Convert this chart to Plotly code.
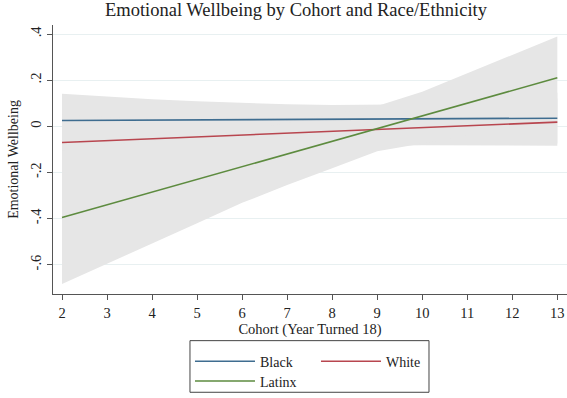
import plotly.graph_objects as go

cohort = [2, 3, 4, 5, 6, 7, 8, 9, 10, 11, 12, 13]

black = [0.025, 0.026, 0.027, 0.028, 0.029, 0.030, 0.031, 0.031, 0.032, 0.033, 0.034, 0.035]
black_lo = [-0.091, -0.076, -0.063, -0.052, -0.042, -0.035, -0.030, -0.030, -0.031, -0.039, -0.057, -0.075]
black_hi = [0.141, 0.128, 0.117, 0.108, 0.100, 0.095, 0.092, 0.092, 0.095, 0.105, 0.125, 0.145]

white = [-0.070, -0.062, -0.054, -0.046, -0.038, -0.030, -0.022, -0.014, -0.006, 0.002, 0.010, 0.018]
white_lo = [-0.190, -0.165, -0.140, -0.120, -0.105, -0.095, -0.088, -0.084, -0.082, -0.082, -0.083, -0.084]
white_hi = [0.050, 0.041, 0.032, 0.028, 0.029, 0.035, 0.044, 0.056, 0.070, 0.086, 0.103, 0.120]

latinx = [-0.395, -0.340, -0.285, -0.230, -0.175, -0.120, -0.065, -0.010, 0.045, 0.100, 0.155, 0.210]
latinx_lo = [-0.684, -0.595, -0.508, -0.420, -0.332, -0.255, -0.182, -0.108, -0.075, -0.040, -0.005, 0.030]
latinx_hi = [-0.106, -0.085, -0.062, -0.040, -0.018, 0.015, 0.052, 0.088, 0.150, 0.230, 0.310, 0.389]

series = [
    ("Black", black, black_lo, black_hi, "#3f6d90", "legend"),
    ("White", white, white_lo, white_hi, "#b8464f", "legend"),
    ("Latinx", latinx, latinx_lo, latinx_hi, "#5d8b3f", "legend2"),
]

yticks = [0.4, 0.2, 0, -0.2, -0.4, -0.6]
ytick_text = [".4", ".2", "0", "-.2", "-.4", "-.6"]
xticks = list(range(2, 14))

band_color = "#e6e6e6"
font_family = "Liberation Serif, Times New Roman, serif"

fig = go.Figure()

for name, y, lo, hi, col, lg in series:
    fig.add_trace(go.Scatter(x=cohort, y=hi, mode="lines", line=dict(width=0),
                             showlegend=False, hoverinfo="skip"))
    fig.add_trace(go.Scatter(x=cohort, y=lo, mode="lines", line=dict(width=0),
                             fill="tonexty", fillcolor=band_color,
                             showlegend=False, hoverinfo="skip"))

for name, y, lo, hi, col, lg in series:
    fig.add_trace(go.Scatter(x=cohort, y=y, mode="lines", name=name, legend=lg,
                             line=dict(color=col, width=1.6)))

legend_common = dict(orientation="h", xanchor="left", yanchor="top",
                     borderwidth=0, bgcolor="rgba(0,0,0,0)",
                     entrywidth=51, itemwidth=60, traceorder="normal",
                     font=dict(size=14, family=font_family, color="#222222"))

fig.update_layout(
    width=567, height=398,
    margin=dict(l=53, r=0, t=25, b=102),
    paper_bgcolor="white", plot_bgcolor="white",
    font=dict(family=font_family, color="#222222", size=13),
    title=dict(text="Emotional Wellbeing by Cohort and Race/Ethnicity",
               x=0.522, xanchor="center", y=0.993, yanchor="top",
               font=dict(size=18.5, family=font_family, color="#222222")),
    legend=dict(x=0.2665, y=-0.1919, **legend_common),
    legend2=dict(x=0.2665, y=-0.2657, **legend_common),
    showlegend=True,
    shapes=[dict(type="rect", xref="paper", yref="paper",
                 x0=0.2665, x1=0.7315, y0=-0.1734, y1=-0.3653,
                 line=dict(color="#444444", width=1), fillcolor="rgba(0,0,0,0)",
                 layer="below")],
)

fig.update_xaxes(
    range=[1.8, 13.215], tickmode="array", tickvals=xticks,
    showline=True, linecolor="#555555", linewidth=1.3,
    ticks="outside", ticklen=5, tickcolor="#555555", tickwidth=1.2,
    showgrid=False, zeroline=False,
    tickfont=dict(size=14.5, family=font_family),
    title=dict(text="Cohort (Year Turned 18)", standoff=0,
               font=dict(size=14.5, family=font_family)),
)

fig.update_yaxes(
    range=[-0.727, 0.439], tickmode="array", tickvals=yticks, ticktext=ytick_text,
    tickangle=-90,
    showline=True, linecolor="#555555", linewidth=1.3,
    ticks="outside", ticklen=5, tickcolor="#555555", tickwidth=1.2,
    showgrid=True, gridcolor="#e8f0f1", gridwidth=1, zeroline=False,
    tickfont=dict(size=14.5, family=font_family),
    title=dict(text="Emotional Wellbeing", standoff=6,
               font=dict(size=14, family=font_family)),
)

fig.write_html("out.html")
